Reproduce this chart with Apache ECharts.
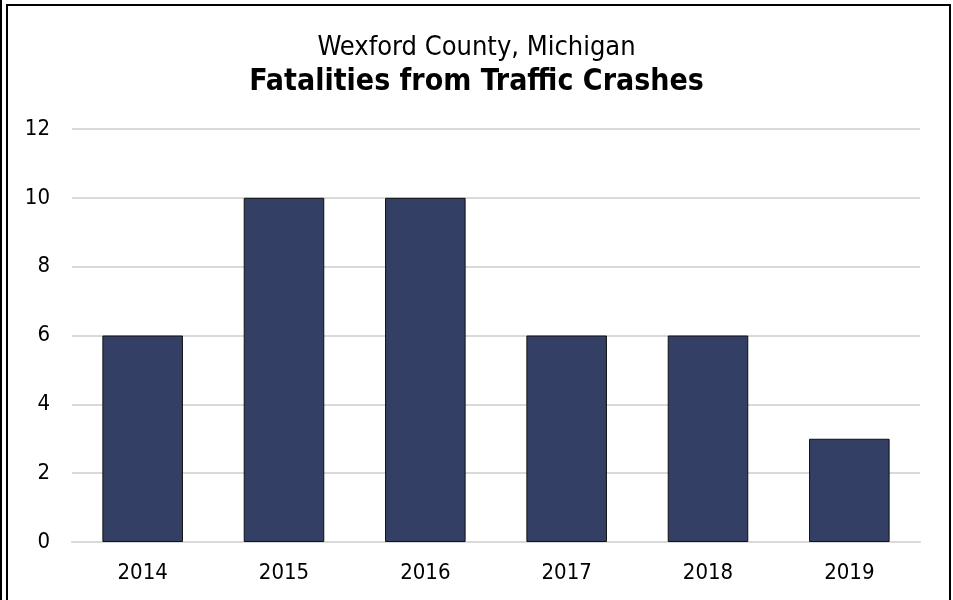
<!DOCTYPE html>
<html lang="en">
<head>
    <meta charset="utf-8">
    <script src="https://cdn.jsdelivr.net/npm/echarts@6/dist/echarts.min.js"></script>
    <style>
        html, body {
            margin: 0px;
            padding: 0px;
            width: 100%;
            height: 100%;
            background: #fff;
        }
        #edge {
            position: absolute;
            left: 0px;
            top: 0px;
            width: 2px;
            height: 600px;
            background: #000;
        }
        #frame {
            position: absolute;
            left: 6px;
            top: 4px;
            width: 941px;
            height: 600px;
            border: 2px solid #000;
        }
        #chart {
            position: absolute;
            left: 0px;
            top: 0px;
            width: 953px;
            height: 600px;
        }
    </style>
</head>
<body>
<div id="edge"></div>
<div id="frame"></div>
<div id="chart"></div>
<script type="text/javascript">
    var years = ['2014', '2015', '2016', '2017', '2018', '2019'];
    var fatalities = [6, 10, 10, 6, 6, 3];
    var yTicks = [0, 2, 4, 6, 8, 10, 12];

    var fontName = '"DejaVu Sans Condensed", "DejaVu Sans", sans-serif';
    var myChart = echarts.init(document.getElementById('chart'), null, {renderer: 'canvas'});

    var option = {
        animation: false,
        backgroundColor: 'transparent',
        title: [{
            text: 'Wexford County, Michigan',
            left: 'center',
            top: 29,
            textStyle: {fontFamily: fontName, fontSize: 27, fontWeight: 'normal', color: '#000'}
        }, {
            text: 'Fatalities from Traffic Crashes',
            left: 'center',
            top: 62,
            textStyle: {fontFamily: fontName, fontSize: 30, fontWeight: 'bold', color: '#000'}
        }],
        grid: {
            left: 72,
            right: 33,
            top: 129,
            bottom: 58
        },
        xAxis: {
            type: 'category',
            data: years,
            axisLine: {show: true, lineStyle: {color: '#d9d9d9', width: 2}},
            axisTick: {show: false},
            axisLabel: {fontFamily: fontName, fontSize: 22, color: '#000', margin: 20}
        },
        yAxis: {
            type: 'value',
            min: yTicks[0],
            max: yTicks[yTicks.length - 1],
            interval: 2,
            axisLine: {show: false},
            axisTick: {show: false},
            splitLine: {lineStyle: {color: '#d9d9d9', width: 2}},
            axisLabel: {fontFamily: fontName, fontSize: 22, color: '#000', margin: 22}
        },
        series: [{
            type: 'bar',
            data: fatalities,
            barWidth: '57%',
            itemStyle: {color: '#343f66', borderColor: '#111', borderWidth: 1}
        }]
    };

    myChart.setOption(option, true);
</script>
</body>
</html>
